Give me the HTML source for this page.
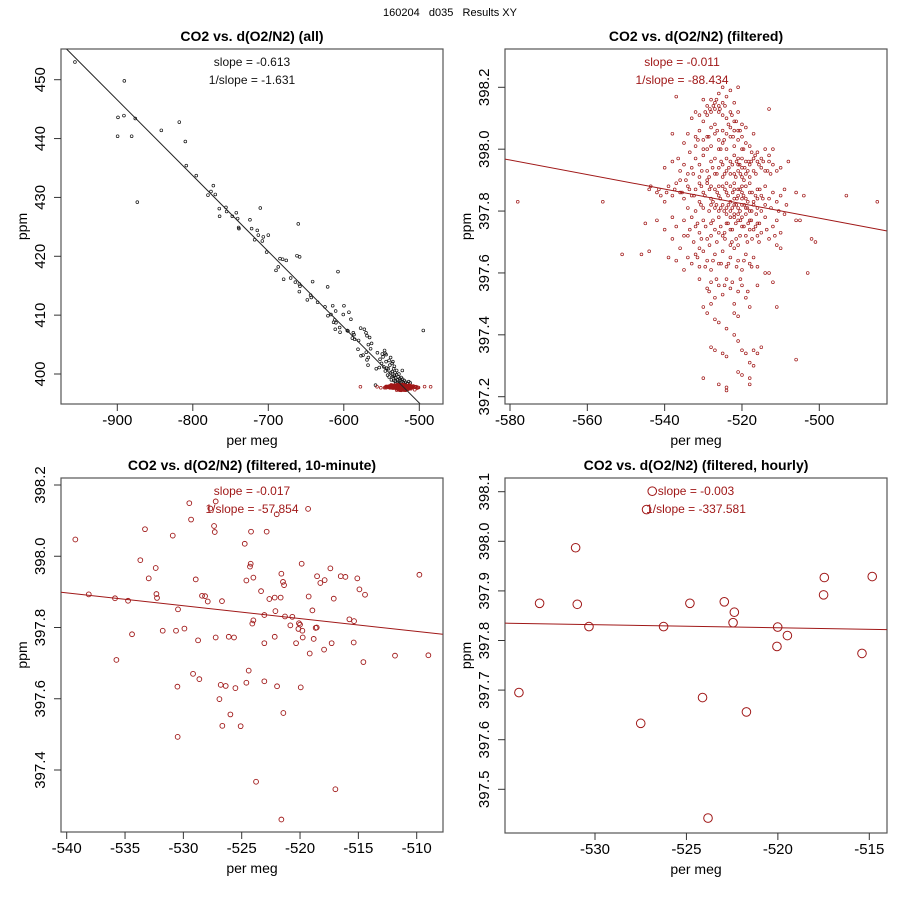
<!DOCTYPE html>
<html><head><meta charset="utf-8"><style>
html,body{margin:0;padding:0;background:#fff;}
svg{display:block;font-family:"Liberation Sans",sans-serif;}
</style></head><body>
<svg id="chart" width="900" height="900" viewBox="0 0 900 900">
<text x="450" y="16" font-size="11" text-anchor="middle" xml:space="preserve">160204   d035   Results XY</text>
</svg>
<script>
// ---- Panel 4 (hourly) data ----
const hourlyX = [-526.87,-527.18,-531.06,-533.03,-530.97,-530.33,-534.16,-527.50,-526.25,-524.81,-524.12,-523.82,-522.93,-522.38,-522.45,-521.72,-520.01,-520.05,-519.48,-517.50,-517.46,-515.40,-514.84];
const hourlyY = [398.101,398.064,397.987,397.875,397.873,397.828,397.695,397.633,397.828,397.875,397.685,397.442,397.878,397.857,397.836,397.656,397.827,397.788,397.810,397.892,397.927,397.774,397.929];
const hourlyFit = [-534.92,397.835,-514.0,397.822];
// ---- Panel 3 (10-minute) data ----
const tenMinX = [-539.26,-538.11,-535.86,-534.74,-534.4,-535.74,-533.69,-533.29,-532.97,-532.37,-532.31,-532.26,-531.77,-530.91,-530.46,-530.63,-530.51,-530.49,-529.91,-529.49,-529.34,-528.94,-529.17,-528.74,-528.63,-528.4,-528.14,-527.91,-527.37,-527.31,-527.23,-527.69,-527.23,-526.69,-526.8,-526.37,-526.91,-526.66,-526.11,-525.66,-525.97,-525.54,-525.09,-524.74,-524.6,-524.6,-524.4,-524.29,-524.23,-524.2,-524.0,-524.0,-524.09,-523.77,-523.34,-523.06,-523.06,-523.06,-522.86,-522.63,-522.17,-522.11,-522.17,-522.0,-521.97,-521.66,-521.6,-521.46,-521.37,-521.29,-521.43,-521.6,-520.83,-520.66,-520.34,-520.09,-520.0,-520.14,-519.8,-519.77,-519.86,-519.94,-519.31,-519.26,-519.17,-518.94,-518.83,-518.66,-518.57,-518.54,-518.26,-517.89,-517.94,-517.4,-517.29,-517.11,-516.97,-516.51,-516.11,-515.77,-515.37,-515.4,-515.09,-514.91,-514.57,-514.43,-511.86,-509.77,-509.0];
const tenMinY = [398.047,397.893,397.882,397.875,397.781,397.709,397.989,398.076,397.938,397.967,397.894,397.883,397.791,398.058,397.851,397.791,397.634,397.493,397.797,398.149,398.103,397.935,397.670,397.764,397.655,397.889,397.888,397.873,398.085,398.068,398.154,398.134,397.772,397.874,397.639,397.636,397.599,397.524,397.774,397.772,397.556,397.630,397.523,398.035,397.932,397.645,397.679,397.971,397.979,398.069,397.940,397.820,397.811,397.367,397.902,397.835,397.756,397.649,398.069,397.880,397.884,397.846,397.774,398.118,397.635,397.884,397.951,397.928,397.919,397.831,397.560,397.261,397.806,397.830,397.756,397.812,397.808,397.796,397.791,397.772,397.979,397.632,398.133,397.887,397.727,397.848,397.768,397.799,397.800,397.944,397.925,397.933,397.738,397.966,397.756,397.881,397.346,397.944,397.942,397.823,397.818,397.758,397.938,397.907,397.703,397.892,397.721,397.948,397.722];
const tenMinFit = [-540.49,397.899,-507.77,397.781];
// ---- Panel 2 (filtered) data ----
const filtPts = [[-525,398.2],[-523,398.19],[-521,398.2],[-526,398.18],[-524,398.17],[-527,398.15],[-528,398.16],[-529,398.14],[-530,398.16],[-526,398.14],[-525,398.15],[-527,398.13],[-528,398.12],[-529,398.11],[-531,398.11],[-532,398.12],[-526,398.12],[-525,398.11],[-524,398.1],[-522,398.15],[-523,398.12],[-521,398.12],[-520,398.08],[-522,398.09],[-519,398.07],[-521,398.06],[-537,398.17],[-513,398.13],[-530,398.09],[-528,398.07],[-531,398.06],[-533,398.1],
[-534,398.05],[-532,398.04],[-530,398.03],[-529,398.04],[-527,398.05],[-526,398.03],[-525,398.02],[-524,398.05],[-523,398.04],[-522,398.06],[-521,398.03],[-520,398.04],[-519,398.02],[-518,398.01],[-520,398.0],[-524,398.0],[-526,398.0],[-528,398.01],[-530,398.0],[-532,398.01],[-535,398.02],[-538,398.05],[-517,398.05],[-522,398.01],[-527,398.08],[-523,398.07],[-529,398.0],[-525,398.06],[-516,397.99],[-514,398.0],[-512,398.0],[-513,397.98],
[-540,397.94],[-538,397.96],[-536,397.93],[-535,397.95],[-533,397.94],[-532,397.97],[-531,397.95],[-530,397.98],[-529,397.93],[-528,397.96],[-527,397.97],[-526,397.94],[-525,397.95],[-524,397.97],[-523,397.96],[-522,397.98],[-521,397.95],[-520,397.94],[-519,397.96],[-518,397.95],[-517,397.93],[-516,397.96],[-515,397.94],[-514,397.93],[-513,397.96],[-512,397.95],[-511,397.93],[-510,397.94],[-508,397.96],[-522,397.92],[-520,397.91],[-521,397.93],[-519,397.92],[-518,397.91],[-523,397.92],[-525,397.91],[-527,397.92],[-529,397.9],[-531,397.91],[-534,397.92],[-536,397.9],[-524,397.93],[-517,397.97],[-515,397.97],[-521,397.97],[-520,397.97],
[-544,397.87],[-542,397.86],[-541,397.85],[-540,397.83],[-539,397.88],[-538,397.85],[-537,397.89],[-536,397.86],[-535,397.84],[-534,397.88],[-533,397.85],[-532,397.87],[-531,397.83],[-530,397.86],[-529,397.89],[-528,397.84],[-527,397.87],[-526,397.85],[-525,397.88],[-524,397.86],[-523,397.83],[-522,397.87],[-521,397.85],[-520,397.88],[-519,397.84],[-518,397.86],[-517,397.83],[-516,397.87],[-515,397.85],[-514,397.88],[-513,397.84],[-512,397.86],[-511,397.83],[-510,397.85],[-509,397.87],[-506,397.86],[-504,397.85],[-493,397.85],[-485,397.83],[-578,397.83],[-556,397.83],[-522,397.82],[-521,397.81],[-523,397.8],[-520,397.82],[-519,397.81],[-524,397.81],[-525,397.82],[-526,397.8],[-527,397.81],[-528,397.82],[-530,397.81],[-532,397.8],[-534,397.81],[-518,397.8],[-517,397.82],[-516,397.81],[-515,397.8],[-514,397.82],[-522,397.84],[-521,397.87],[-520,397.84],[-519,397.88],[-523,397.88],[-524,397.89],[-522,397.89],[-520,397.86],[-518,397.89],[-516,397.84],[-528,397.88],[-526,397.88],[-531,397.89],
[-545,397.76],[-542,397.77],[-540,397.74],[-538,397.78],[-537,397.75],[-535,397.77],[-534,397.72],[-533,397.78],[-532,397.75],[-531,397.73],[-530,397.77],[-529,397.71],[-528,397.76],[-527,397.74],[-526,397.78],[-525,397.72],[-524,397.76],[-523,397.74],[-522,397.78],[-521,397.77],[-520,397.75],[-519,397.72],[-518,397.77],[-517,397.74],[-516,397.76],[-515,397.73],[-514,397.78],[-513,397.71],[-512,397.75],[-511,397.77],[-510,397.73],[-509,397.79],[-506,397.77],[-505,397.77],[-502,397.71],[-501,397.7],[-538,397.71],[-535,397.72],[-522,397.79],[-521,397.79],[-520,397.78],[-519,397.79],[-523,397.78],[-524,397.79],[-518,397.74],[-516,397.72],[-526,397.73],[-528,397.72],
[-551,397.66],[-546,397.66],[-544,397.67],[-539,397.65],[-537,397.64],[-536,397.68],[-534,397.65],[-533,397.63],[-532,397.66],[-531,397.62],[-530,397.67],[-529,397.64],[-528,397.61],[-527,397.66],[-526,397.63],[-525,397.67],[-524,397.62],[-523,397.65],[-522,397.68],[-521,397.64],[-520,397.61],[-519,397.66],[-518,397.63],[-517,397.65],[-516,397.62],[-514,397.6],[-513,397.6],[-511,397.69],[-510,397.68],[-503,397.6],[-535,397.61],[-531,397.68],[-523,397.69],[-521,397.69],
[-531,397.58],[-529,397.55],[-528,397.57],[-527,397.52],[-526,397.56],[-525,397.53],[-524,397.58],[-523,397.55],[-522,397.5],[-521,397.54],[-520,397.56],[-519,397.52],[-518,397.49],[-516,397.56],[-530,397.49],[-529,397.47],[-527,397.45],[-526,397.44],[-524,397.42],[-522,397.47],[-521,397.46],[-528,397.5],[-511,397.49],[-512,397.57],
[-528,397.36],[-527,397.35],[-525,397.34],[-524,397.33],[-522,397.4],[-521,397.38],[-520,397.35],[-519,397.34],[-517,397.35],[-516,397.34],[-515,397.36],[-506,397.32],[-518,397.31],[-517,397.3],[-521,397.28],[-520,397.27],[-530,397.26],[-526,397.24],[-524,397.23],[-524,397.22],[-518,397.26],[-518,397.24]];
// additional core points (fractional x) read from the dense centre of the cloud
const filtCore = [[-527.4,398.14],[-526.6,398.16],[-528.3,398.13],[-525.7,398.13],[-529.5,398.12],[-524.4,398.14],[-522.6,398.11],[-521.5,398.09],[-523.5,398.08],[-526.4,398.06],[-528.6,398.04],[-524.6,398.03],[-520.5,398.06],[-531.4,398.03],[-522.3,398.04],[-519.6,398.0],[-517.5,397.99],[-525.5,398.0],[-533.5,397.99],[-536.5,397.97],
[-521.4,397.96],[-520.6,397.95],[-519.3,397.94],[-518.5,397.93],[-517.6,397.96],[-516.4,397.92],[-515.6,397.95],[-514.5,397.96],[-513.4,397.93],[-512.6,397.92],[-522.5,397.95],[-523.4,397.94],[-524.5,397.92],[-525.4,397.96],[-526.5,397.92],[-527.6,397.94],[-528.5,397.91],[-530.4,397.93],[-532.6,397.92],[-534.5,397.9],[-520.4,397.92],[-521.6,397.91],[-519.5,397.9],[-518.3,397.96],[-516.6,397.98],
[-522.4,397.86],[-521.3,397.84],[-520.5,397.87],[-519.6,397.85],[-518.5,397.83],[-517.4,397.86],[-516.5,397.85],[-515.4,397.87],[-514.6,397.84],[-523.6,397.85],[-524.4,397.87],[-525.6,397.84],[-526.4,397.86],[-527.5,397.83],[-528.4,397.87],[-529.6,397.85],[-530.5,397.88],[-532.4,397.85],[-533.6,397.87],[-535.5,397.86],[-537.4,397.87],[-539.5,397.86],[-541.5,397.87],[-543.6,397.88],
[-522.5,397.81],[-521.5,397.82],[-520.5,397.8],[-519.4,397.82],[-518.6,397.81],[-517.5,397.8],[-516.3,397.79],[-523.5,397.82],[-524.6,397.8],[-525.5,397.81],[-526.6,397.82],[-528.5,397.8],[-530.6,397.82],[-512.5,397.81],[-510.5,397.8],[-508.5,397.82],
[-521.6,397.76],[-520.4,397.77],[-519.5,397.75],[-518.4,397.76],[-517.6,397.77],[-516.5,397.75],[-515.5,397.76],[-522.5,397.74],[-523.6,397.76],[-524.5,397.73],[-525.5,397.75],[-527.5,397.77],[-529.4,397.75],[-531.5,397.76],[-533.5,397.74],[-513.6,397.74],[-511.5,397.72],
[-521.5,397.71],[-520.5,397.72],[-518.6,397.7],[-517.4,397.71],[-515.6,397.7],[-522.6,397.7],[-524.4,397.71],[-526.5,397.7],[-528.4,397.69],[-530.5,397.71],[-532.5,397.7],
[-527.5,397.64],[-525.4,397.63],[-523.5,397.63],[-521.4,397.62],[-519.5,397.64],[-517.5,397.62],[-529.5,397.62],[-531.5,397.65],[-526.6,397.58],[-524.5,397.56],[-522.5,397.57],[-520.4,397.58],[-518.5,397.54],[-528.5,397.54]];
const filtFit = [-581.29,397.968,-482.59,397.736];
// ---- Panel 1 (all) data ----
const allPts = [[-956.1,453.0],[-890.7,449.8],[-899.1,443.6],[-891.2,443.9],[-876.2,443.4],[-899.6,440.4],[-881.0,440.4],[-873.5,429.2],[-841.7,441.4],[-817.9,442.8],[-809.9,439.5],[-808.6,435.4],[-795.4,433.7],[-772.8,432.0],[-775.9,431.0],[-779.9,430.4],[-770.2,430.5],[-764.9,428.1],[-764.5,426.8],[-756.1,428.3],[-755.2,427.6],[-747.7,426.8],[-742.4,427.4],[-740.6,426.4],[-739.3,424.9],[-738.9,424.7],[-724.3,426.2],[-722.1,424.7],[-714.6,424.4],[-713.2,423.6],[-718.1,422.8],[-710.6,428.2],[-706.6,423.3],[-700.0,423.6],[-707.9,422.6],[-702.2,420.7],[-684.5,419.6],[-681.0,419.5],[-676.2,419.3],[-686.8,418.2],[-689.8,417.6],[-679.7,416.1],[-670.4,416.3],[-664.2,415.6],[-660.3,425.5],[-662.0,420.1],[-658.5,419.9],[-658.9,415.3],[-658.1,414.9],[-658.9,414.0],[-641.3,415.7],[-648.3,412.6],[-643.1,413.0],[-644.0,413.4],[-634.7,412.2],[-621.4,414.8],[-607.7,417.4],[-624.9,411.4],[-614.7,411.6],[-599.8,411.6],[-610.8,410.7],[-621.0,409.9],[-617.0,410.1],[-593.2,410.5],[-600.7,410.1],[-590.6,409.3],[-612.1,409.2],[-610.4,408.7],[-613.5,408.8],[-611.3,407.6],[-605.5,407.9],[-605.0,407.1],[-594.5,407.3],[-595.4,407.4],[-587.4,407.0],[-586.5,406.7],[-588.7,406.1],[-585.6,405.9],[-577.7,407.8],[-572.8,407.6],[-570.6,407.0],[-569.3,406.5],[-565.8,406.2],[-580.4,405.7],[-563.2,405.2],[-567.5,405.0],[-564.5,404.3],[-581.2,404.2],[-570.2,403.7],[-574.5,403.2],[-577.2,403.1],[-567.5,402.8],[-569.3,402.4],[-567.9,401.5],[-555.5,403.6],[-545.3,403.5],[-544.0,403.3],[-494.7,407.4],[-522.5,400.6],
[-552,402.5],[-550,401.8],[-548,402.9],[-547,401.2],[-545,400.5],[-544,402.1],[-543,401.0],[-542,399.8],[-541,400.9],[-540,402.3],[-540,399.5],[-539,401.5],[-538,400.2],[-537,399.0],[-536,401.8],[-536,400.4],[-535,399.6],[-534,398.9],[-534,400.9],[-533,399.8],[-532,400.2],[-532,398.8],[-531,399.3],[-530,400.6],[-530,399.9],[-529,399.0],[-528,399.5],[-528,398.6],[-527,400.0],[-526,399.2],[-525,398.9],[-524,399.4],[-523,398.7],[-522,399.1],[-521,398.5],[-520,398.9],[-518,398.6],[-516,398.4],[-514,398.7],[-512,398.5],[-549,403.4],[-546,404.0],[-553,401.1],[-557,400.9],[-558,398.1],[-538,402.8],[-535,402.1],[-533,401.3],[-531,398.4],[-529,398.2],[-527,398.3]];
const allFit = [-967.1,455.2,-499.1,394.96];
const p1XTicks = [-900,-800,-700,-600,-500], p1YTicks = [400,410,420,430,440,450];
const p2XTicks = [-580,-560,-540,-520,-500], p2YTicks = [397.2,397.4,397.6,397.8,398.0,398.2];
const p3XTicks = [-540,-535,-530,-525,-520,-515,-510], p3YTicks = [397.4,397.6,397.8,398.0,398.2];
const p4XTicks = [-530,-525,-520,-515], p4YTicks = [397.5,397.6,397.7,397.8,397.9,398.0,398.1];

const NS = 'http://www.w3.org/2000/svg';
const svg = document.getElementById('chart');
const RED = '#a01818';
function mk(tag, attrs, parent){const e=document.createElementNS(NS,tag);for(const k in attrs)e.setAttribute(k,attrs[k]);(parent||svg).appendChild(e);return e;}
function lin(d0,p0,d1,p1){return v=>p0+(v-d0)*(p1-p0)/(d1-d0);}

function panel(o){
  const g = mk('g',{});
  
  
  const sx = lin(o.xa[0],o.xa[1],o.xb[0],o.xb[1]);
  const sy = lin(o.ya[0],o.ya[1],o.yb[0],o.yb[1]);
  const b = o.box, cx=(b[0]+b[2])/2, cy=(b[1]+b[3])/2;
  const t = mk('text',{x:cx,y:b[1]-8,'font-size':14,'font-weight':'bold','text-anchor':'middle'},g);
  t.textContent=o.title;
  
  
  const fr = mk('rect',{x:b[0],y:b[1],width:b[2]-b[0],height:b[3]-b[1],fill:'none',stroke:'#555','stroke-width':1.2},g);
  
  
  o.xt.forEach(v=>{const x=sx(v);
    mk('line',{x1:x,x2:x,y1:b[3],y2:b[3]+7,stroke:'#333'},g);
    const l=mk('text',{x:x,y:b[3]+21,'font-size':15,'text-anchor':'middle'},g);l.textContent=String(v);
    
    });
  o.yt.forEach(v=>{const y=sy(v);
    mk('line',{x1:b[0]-7,x2:b[0],y1:y,y2:y,stroke:'#333'},g);
    const lx=b[0]-16;
    const l=mk('text',{x:lx,y:y,'font-size':15,'text-anchor':'middle',transform:`rotate(-90 ${lx} ${y})`},g);
    l.textContent=o.yfmt?v.toFixed(1):String(v);
    
    });
  const xl=mk('text',{x:cx,y:b[3]+41,'font-size':14,'text-anchor':'middle'},g);xl.textContent='per meg';
  
  
  const yx=b[0]-34;
  const yl=mk('text',{x:yx,y:cy,'font-size':14,'text-anchor':'middle',transform:`rotate(-90 ${yx} ${cy})`},g);yl.textContent='ppm';
  
  
  const clip='c'+o.name; const cp=mk('clipPath',{id:clip},g);
  mk('rect',{x:b[0],y:b[1],width:b[2]-b[0],height:b[3]-b[1]},cp);
  const pg=mk('g',{'clip-path':`url(#${clip})`},g);
  o.series.forEach(s=>{
    s.x.forEach((xv,i)=>{
      const c=mk('circle',{cx:sx(xv),cy:sy(s.y[i]),r:s.r,fill:'none',stroke:s.color,'stroke-width':s.sw},pg);
      
      
    });
  });
  const f=o.fit;
  const fl=mk('line',{x1:sx(f[0]),y1:sy(f[1]),x2:sx(f[2]),y2:sy(f[3]),stroke:o.fitColor,'stroke-width':1},pg);
  
  
  o.ann.forEach((s,i)=>{
    const a=mk('text',{x:cx+o.annDx,y:b[1]+17+i*18,'font-size':12,'text-anchor':'middle',fill:o.annColor},g);a.textContent=s;
    
    
  });
}
const allFilt = filtPts.concat(filtCore);
const fx=allFilt.map(p=>p[0]), fy=allFilt.map(p=>p[1]);
panel({name:'panel-all',title:'CO2 vs. d(O2/N2) (all)',box:[61,49,443,404],
  xa:[-900,117.3],xb:[-500,419.3],ya:[450,79.7],yb:[400,374],xt:p1XTicks,yt:p1YTicks,
  series:[{x:allPts.map(p=>p[0]),y:allPts.map(p=>p[1]),r:1.4,sw:0.7,color:'#111'},{x:fx,y:fy,r:1.4,sw:0.7,color:RED}],
  fit:allFit,fitColor:'#222',ann:['slope = -0.613','1/slope = -1.631'],annColor:'#111',annDx:0});
panel({name:'panel-filtered',title:'CO2 vs. d(O2/N2) (filtered)',box:[505,49,887,404],
  xa:[-580,510],xb:[-500,819.3],ya:[398.2,87.3],yb:[397.2,396.7],xt:p2XTicks,yt:p2YTicks,yfmt:true,
  series:[{x:fx,y:fy,r:1.4,sw:0.7,color:RED}],
  fit:filtFit,fitColor:RED,ann:['slope = -0.011','1/slope = -88.434'],annColor:RED,annDx:-14});
panel({name:'panel-10-minute',title:'CO2 vs. d(O2/N2) (filtered, 10-minute)',box:[61,478,443,832],
  xa:[-540,66.7],xb:[-510,416.7],ya:[398.2,485],yb:[397.4,770],xt:p3XTicks,yt:p3YTicks,yfmt:true,
  series:[{x:tenMinX,y:tenMinY,r:2.4,sw:0.9,color:RED}],
  fit:tenMinFit,fitColor:RED,ann:['slope = -0.017','1/slope = -57.854'],annColor:RED,annDx:0});
panel({name:'panel-hourly',title:'CO2 vs. d(O2/N2) (filtered, hourly)',box:[505,478,887,833],
  xa:[-530,595],xb:[-515,869.3],ya:[398.1,491.7],yb:[397.5,789.3],xt:p4XTicks,yt:p4YTicks,yfmt:true,
  series:[{x:hourlyX,y:hourlyY,r:4.3,sw:1,color:RED}],
  fit:hourlyFit,fitColor:RED,ann:['slope = -0.003','1/slope = -337.581'],annColor:RED,annDx:0});
</script>
</body></html>
